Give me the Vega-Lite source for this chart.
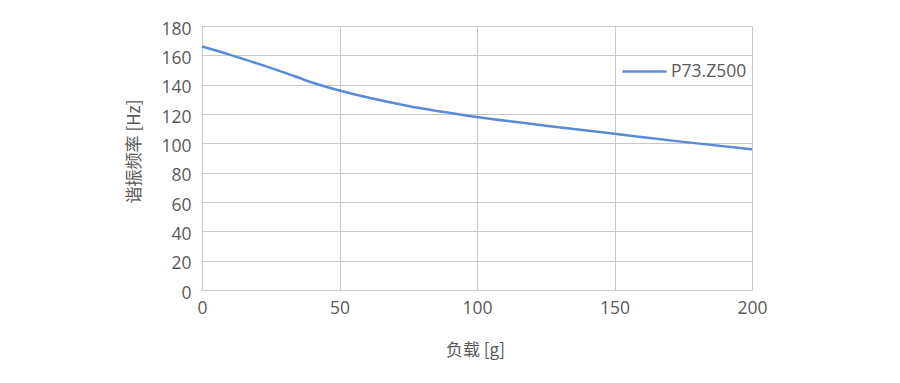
{
  "$schema": "https://vega.github.io/schema/vega-lite/v6.json",
  "autosize": {"type": "none"},
  "padding": {"left": 202, "top": 26, "right": 148, "bottom": 93},
  "width": 550,
  "height": 264,
  "background": "white",
  "config": {
    "view": {"stroke": null},
    "font": "Open Sans",
    "axis": {
      "labelFont": "Open Sans",
      "titleFont": "Noto Sans CJK SC",
      "labelColor": "#595959",
      "titleColor": "#595959",
      "labelFontSize": 17.5,
      "titleFontSize": 17,
      "titleFontWeight": "normal",
      "gridColor": "#c9c9c9",
      "gridWidth": 1,
      "domainColor": "#c9c9c9",
      "ticks": false
    }
  },
  "data": {
    "values": [
      {"load": 0, "freq": 166, "series": "P73.Z500"},
      {"load": 10, "freq": 160.5, "series": "P73.Z500"},
      {"load": 20, "freq": 154.5, "series": "P73.Z500"},
      {"load": 30, "freq": 148.2, "series": "P73.Z500"},
      {"load": 40, "freq": 141.5, "series": "P73.Z500"},
      {"load": 50, "freq": 136, "series": "P73.Z500"},
      {"load": 75, "freq": 125.5, "series": "P73.Z500"},
      {"load": 100, "freq": 118, "series": "P73.Z500"},
      {"load": 125, "freq": 112, "series": "P73.Z500"},
      {"load": 150, "freq": 106.5, "series": "P73.Z500"},
      {"load": 175, "freq": 101, "series": "P73.Z500"},
      {"load": 200, "freq": 96, "series": "P73.Z500"}
    ]
  },
  "mark": {"type": "line", "strokeWidth": 2.5, "interpolate": "monotone"},
  "encoding": {
    "x": {
      "field": "load", "type": "quantitative",
      "scale": {"domain": [0, 200], "nice": false},
      "axis": {"values": [0, 50, 100, 150, 200], "title": "负载 [g]", "labelPadding": 9, "titlePadding": 26, "titleX": 273, "labelFlush": false}
    },
    "y": {
      "field": "freq", "type": "quantitative",
      "scale": {"domain": [0, 180], "nice": false},
      "axis": {"values": [0, 20, 40, 60, 80, 100, 120, 140, 160, 180], "title": "谐振频率 [Hz]", "labelPadding": 11, "labelOffset": 3, "titlePadding": 17, "titleY": 125, "labelFlush": false}
    },
    "color": {
      "field": "series", "type": "nominal",
      "scale": {"range": ["#5B8BD6"]},
      "legend": {
        "title": null,
        "orient": "none",
        "legendX": 419,
        "legendY": 22,
        "symbolType": "stroke",
        "symbolSize": 1936,
        "symbolStrokeWidth": 2.5,
        "labelOffset": 3,
        "labelFontSize": 17.5,
        "labelColor": "#595959",
        "labelFont": "Open Sans",
        "padding": 0
      }
    }
  }
}
